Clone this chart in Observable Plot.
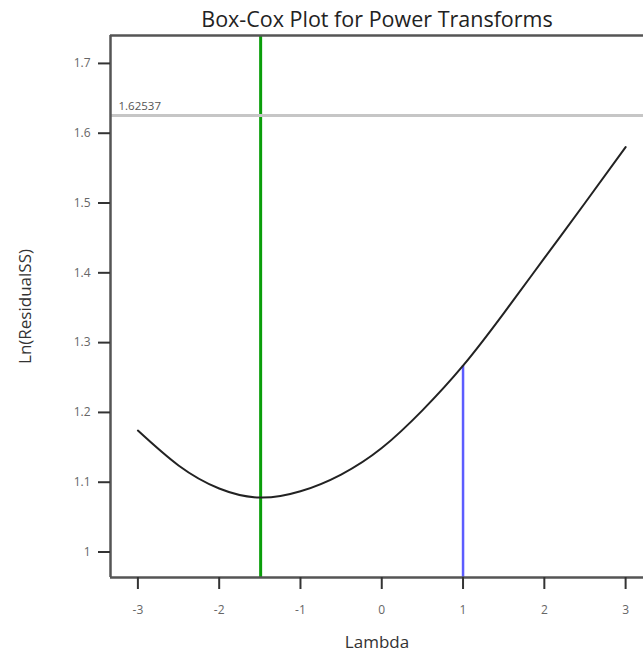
<!DOCTYPE html>
<html>
<head>
<meta charset="utf-8">
<script src="https://cdn.jsdelivr.net/npm/d3@7"></script>
<script src="https://cdn.jsdelivr.net/npm/@observablehq/plot@0.6"></script>
<style>
  html, body { margin: 0; padding: 0; background: #fff; }
  #chart svg { display: block; font-family: "Open Sans", sans-serif; }
</style>
</head>
<body>
<div id="chart"></div>
<script>
// Box-Cox lambda grid and the log of the residual sum of squares at each lambda
const lambdas = [-3.0, -2.5, -2.0, -1.5, -1.0, -0.5, 0.0, 0.5, 1.0, 1.5, 2.0, 2.5, 3.0];
const lnResidualSS = [1.174, 1.124, 1.091, 1.078, 1.087, 1.111, 1.149, 1.203, 1.267, 1.342, 1.421, 1.500, 1.580];

// Best lambda, current transform (lambda = 1) and the confidence-limit level
const bestLambda = [-1.49];
const currentLambda = [1.0];
const limitLevel = [1.62537];

// Axis ranges and ticks
const xDomain = [-3.337, 3.22];
const yDomain = [0.9635, 1.74];
const xTicks = [-3, -2, -1, 0, 1, 2, 3];
const yTicks = [1, 1.1, 1.2, 1.3, 1.4, 1.5, 1.6, 1.7];

const curve = lambdas.map((l, i) => ({lambda: l, value: lnResidualSS[i]}));
const currentRule = currentLambda.map(l => ({
  lambda: l,
  lo: yDomain[0],
  hi: lnResidualSS[lambdas.indexOf(l)]
}));

const chart = Plot.plot({
  width: 643,
  height: 657,
  marginLeft: 110,
  marginRight: 0,
  marginTop: 35,
  marginBottom: 80,
  x: {domain: xDomain, label: null},
  y: {domain: yDomain, label: null},
  marks: [
    // best lambda
    Plot.ruleX(bestLambda, {stroke: "#0a9e0a", strokeWidth: 3}),
    // current transform, up to the curve
    Plot.ruleX(currentRule, {x: "lambda", y1: "lo", y2: "hi", stroke: "#5c5cff", strokeWidth: 2.5}),
    // confidence-limit level
    Plot.ruleY(limitLevel, {stroke: "#c6c6c6", strokeWidth: 3}),
    Plot.text(limitLevel, {
      y: d => d, frameAnchor: "left", dx: 8, dy: -9, textAnchor: "start",
      text: d => String(d), fontSize: 11.5, fill: "#555"
    }),
    // the Box-Cox curve
    Plot.line(curve, {x: "lambda", y: "value", curve: "natural", stroke: "#222", strokeWidth: 2}),
    // frame: left, top and bottom edges
    Plot.ruleX([xDomain[0]], {stroke: "#555", strokeWidth: 2.5}),
    Plot.ruleY([yDomain[1]], {stroke: "#555", strokeWidth: 2.5}),
    Plot.ruleY([yDomain[0]], {stroke: "#555", strokeWidth: 2.5}),
    // tick marks
    Plot.axisX({ticks: xTicks, tickSize: 12, text: null, stroke: "#333", strokeWidth: 2, label: null}),
    Plot.axisY({ticks: yTicks, tickSize: 12, text: null, stroke: "#333", strokeWidth: 2, label: null}),
    // tick labels
    Plot.axisX({ticks: xTicks, tickSize: 0, tickPadding: 28, tickFormat: d => String(d), fill: "#666", fontSize: 12, label: null}),
    Plot.axisY({ticks: yTicks, tickSize: 0, tickPadding: 20, tickFormat: d => String(d), fill: "#666", fontSize: 12, label: null}),
    // axis titles and chart title
    Plot.text(["Lambda"], {frameAnchor: "bottom", dy: 70, text: d => d, fontSize: 17, fill: "#333"}),
    Plot.text(["Ln(ResidualSS)"], {
      frameAnchor: "left", dx: -85, rotate: -90, textAnchor: "middle",
      text: d => d, fontSize: 17, fill: "#333"
    }),
    Plot.text(["Box-Cox Plot for Power Transforms"], {
      frameAnchor: "top", dy: -9, lineAnchor: "bottom", text: d => d, fontSize: 21.5, fill: "#222"
    })
  ]
});

document.getElementById("chart").append(chart);
</script>
</body>
</html>
